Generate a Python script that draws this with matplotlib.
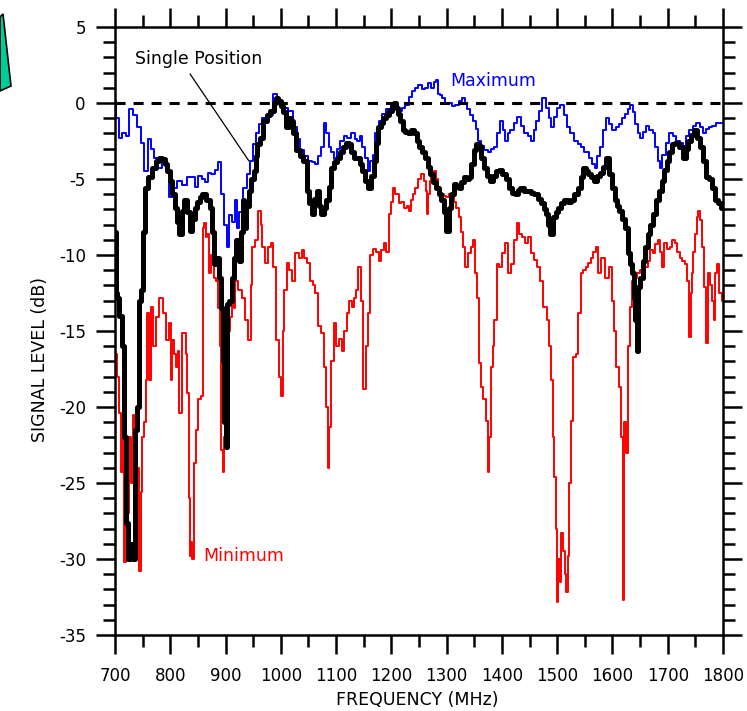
import matplotlib
matplotlib.use('Agg')
from matplotlib import pyplot as plt
from matplotlib.patches import Polygon

plt.rcParams['font.family'] = ['DejaVu Sans']
plt.rcParams['axes.unicode_minus'] = False

# Maximum (blue)
max_freq = [700, 705, 710, 716, 722, 729, 735, 745, 750, 756, 763, 768, 774, 781, 788, 795,
            801, 808, 818, 826, 834, 841, 848, 854, 860, 865, 871, 877, 884, 890, 895, 900,
            904, 910, 915, 919, 922, 928, 935, 941, 947, 953, 958, 962, 971, 980, 990, 996,
            1002, 1010, 1017, 1026, 1032, 1038, 1045, 1053, 1060, 1065, 1070, 1075, 1080, 1084,
            1089, 1094, 1098, 1104, 1111, 1116, 1122, 1131, 1136, 1140, 1145, 1150, 1155, 1159,
            1164, 1168, 1174, 1180, 1187, 1195, 1205, 1210, 1216, 1222, 1228, 1235, 1241, 1246,
            1252, 1258, 1264, 1270, 1275, 1280, 1283, 1286, 1290, 1295, 1300, 1306, 1312, 1319,
            1325, 1331, 1335, 1340, 1345, 1350, 1355, 1360, 1365, 1371, 1377, 1383, 1389, 1394,
            1400, 1404, 1408, 1413, 1418, 1424, 1431, 1437, 1444, 1450, 1455, 1460, 1464, 1470,
            1476, 1482, 1487, 1491, 1497, 1503, 1509, 1515, 1521, 1527, 1534, 1540, 1545, 1553,
            1561, 1566, 1570, 1575, 1579, 1585, 1592, 1597, 1603, 1609, 1615, 1620, 1625, 1630,
            1634, 1639, 1643, 1648, 1652, 1658, 1664, 1670, 1675, 1680, 1685, 1688, 1693, 1700,
            1706, 1712, 1719, 1724, 1730, 1736, 1742, 1748, 1755, 1760, 1766, 1772, 1778, 1784,
            1790, 1800]
max_level = [0.1, -1.0, -2.3, -2.0, -2.2, -0.4, -0.8, -1.6, -2.6, -4.5, -2.4, -3.0, -3.6, -4.3, -3.7, -4.2,
             -6.2, -5.6, -5.1, -5.4, -4.9, -4.9, -5.5, -4.8, -5.0, -5.2, -4.6, -4.7, -4.4, -3.9, -6.0, -8.0,
             -9.5, -7.4, -7.8, -6.4, -8.2, -7.2, -5.6, -4.7, -3.8, -2.7, -2.0, -1.4, -1.0, -0.8, 0.6, 0.2,
             -0.1, -0.3, -0.5, -1.6, -2.4, -3.1, -3.5, -3.8, -3.9, -4.0, -3.5, -2.9, -1.3, -2.0,
             -2.9, -3.2, -3.7, -3.0, -2.5, -2.2, -2.3, -2.0, -2.4, -2.5, -2.2, -2.9, -3.6, -4.5,
             -3.8, -3.4, -2.0, -1.2, -0.7, -0.4, -0.1, -0.3, -0.5, -0.3, -0.1, 0.4, 0.8, 1.0,
             1.2, 0.9, 1.0, 1.3, 1.0, 1.4, 1.5, 0.6, 0.5, 0.3, 0.0, 0.0, -0.2, -0.1,
             0.1, 0.3, 0.0, -0.4, -0.8, -1.2, -1.7, -2.5, -2.8, -3.1, -3.2, -3.0, -2.9, -2.0,
             -1.2, -1.8, -2.5, -2.0, -1.8, -1.3, -0.9, -1.5, -2.0, -2.2, -2.5, -1.8, -1.2, -0.5,
             0.3, -0.3, -1.0, -1.6, -0.9, -0.3, -0.1, -0.8, -1.6, -2.0, -2.5, -2.7, -2.9, -3.2,
             -3.6, -4.0, -4.3, -3.5, -2.9, -1.8, -1.0, -1.4, -1.8, -1.6, -1.4, -1.0, -0.7, -0.4,
             -0.1, -0.6, -1.4, -2.0, -2.3, -1.9, -1.5, -1.8, -2.0, -2.9, -3.8, -4.3, -3.4, -2.6,
             -2.0, -2.2, -2.5, -2.6, -2.8, -2.2, -1.8, -1.5, -1.3, -1.6, -2.0, -1.7, -1.6, -1.5,
             -1.3, -1.3]

# Single position (black)
single_freq = [700, 702, 706, 710, 714, 718, 722, 726, 730, 734, 738, 742, 746, 749, 752, 756,
               763, 772, 778, 783, 788, 792, 797, 801, 806, 810, 814, 818, 823, 828, 833, 837,
               842, 847, 851, 855, 861, 868, 874, 878, 881, 886, 890, 893, 896, 899, 901, 904,
               910, 914, 917, 922, 926, 930, 932, 935, 940, 944, 949, 953, 956, 959, 966, 971,
               978, 984, 990, 993, 997, 1002, 1007, 1013, 1017, 1020, 1025, 1031, 1038, 1044,
               1049, 1054, 1058, 1063, 1067, 1071, 1076, 1080, 1085, 1089, 1094, 1099, 1103,
               1110, 1116, 1120, 1125, 1130, 1134, 1140, 1145, 1150, 1156, 1161, 1166, 1170,
               1174, 1178, 1183, 1187, 1192, 1198, 1203, 1207, 1211, 1214, 1218, 1223, 1228,
               1232, 1238, 1243, 1248, 1252, 1258, 1264, 1268, 1273, 1278, 1283, 1288, 1292,
               1297, 1301, 1306, 1310, 1315, 1320, 1324, 1329, 1333, 1338, 1342, 1347, 1351,
               1356, 1360, 1365, 1371, 1376, 1380, 1386, 1391, 1397, 1404, 1410, 1416, 1421,
               1426, 1431, 1436, 1443, 1449, 1455, 1462, 1467, 1473, 1478, 1482, 1486, 1489,
               1495, 1499, 1503, 1510, 1516, 1522, 1527, 1534, 1540, 1545, 1549, 1554, 1558,
               1564, 1570, 1575, 1579, 1585, 1592, 1597, 1602, 1606, 1610, 1615, 1620, 1625,
               1630, 1634, 1637, 1640, 1643, 1645, 1648, 1652, 1657, 1662, 1666, 1670, 1675,
               1682, 1687, 1691, 1696, 1700, 1706, 1711, 1717, 1724, 1730, 1735, 1739, 1745,
               1751, 1756, 1760, 1766, 1773, 1778, 1782, 1788, 1793, 1800]
single_level = [-8.5, -12.5, -12.8, -14.0, -16.0, -22.0, -27.6, -30.0, -29.0, -30.0, -21.5, -20.0, -13.0, -12.3, -8.5, -5.6,
                -4.9, -4.3, -3.8, -3.6, -3.7, -4.0, -4.5, -5.1, -6.0, -6.9, -7.8, -8.6, -7.1, -6.4, -7.2, -8.4,
                -7.6, -6.9, -6.5, -6.2, -6.0, -6.4, -6.9, -8.5, -10.6, -10.2, -11.5, -13.5, -17.0, -21.0, -22.6, -13.2,
                -13.0, -11.5, -10.2, -9.0, -10.4, -8.5, -6.4, -8.2, -6.8, -5.8, -5.0, -4.5, -3.5, -2.7, -2.3, -1.2,
                -0.8, -0.5, 0.0, 0.3, 0.1, -0.2, -0.6, -1.6, -1.0, -1.2, -2.0, -3.1, -3.5, -3.8,
                -5.8, -6.6, -7.3, -6.3, -5.8, -6.8, -7.3, -6.9, -6.4, -5.5, -4.3, -3.9, -3.6,
                -3.2, -2.9, -2.6, -2.7, -3.2, -3.6, -3.6, -4.0, -4.5, -5.1, -5.6, -4.8, -3.8,
                -2.6, -1.6, -1.3, -1.0, -0.8, -0.5, -0.2, 0.0, -0.3, -0.7, -1.2, -1.8, -1.9,
                -2.0, -1.8, -2.0, -2.5, -2.9, -3.2, -3.6, -4.2, -4.7, -5.2, -5.6, -6.0, -6.4,
                -7.2, -8.4, -6.9, -6.0, -5.3, -5.5, -5.6, -5.2, -4.9, -5.0, -4.9, -4.0, -3.1,
                -2.7, -2.8, -3.6, -4.3, -4.8, -5.1, -4.8, -4.5, -4.4, -4.7, -5.0, -5.6, -5.9,
                -6.0, -5.7, -5.6, -5.8, -5.8, -5.9, -6.0, -6.3, -6.6, -7.0, -7.3, -8.0, -8.6,
                -7.5, -7.2, -6.9, -6.6, -6.4, -6.5, -6.4, -6.0, -5.6, -4.9, -4.3, -4.5, -4.7,
                -4.9, -5.1, -4.8, -4.6, -4.2, -3.6, -4.7, -5.6, -6.4, -6.8, -7.1, -7.6, -8.2,
                -9.9, -10.6, -11.2, -12.8, -14.3, -16.3, -12.1, -11.5, -10.4, -9.5, -8.6, -8.0, -7.3,
                -6.4, -5.8, -5.1, -4.4, -3.8, -3.2, -2.7, -2.6, -2.9, -3.6, -3.0, -2.5, -2.1,
                -1.8, -2.3, -2.9, -3.8, -4.9, -5.0, -5.6, -6.4, -6.6, -6.9]

# Minimum (red)
min_freq = [700, 701, 703, 706, 710, 713, 716, 718, 720, 724, 728, 731, 735, 739, 742, 745,
            748, 751, 754, 757, 760, 763, 767, 772, 778, 782, 785, 790, 796, 800, 803, 805,
            809, 812, 815, 818, 823, 827, 830, 832, 834, 836, 838, 841, 845, 848, 853, 857,
            860, 863, 866, 868, 872, 875, 877, 881, 884, 888, 891, 893, 896, 899, 902, 906,
            910, 913, 916, 920, 926, 932, 938, 944, 947, 950, 957, 962, 965, 968, 975, 980,
            984, 989, 995, 998, 1002, 1005, 1008, 1013, 1018, 1022, 1029, 1035, 1040, 1045,
            1049, 1056, 1060, 1065, 1071, 1076, 1080, 1083, 1086, 1089, 1093, 1098, 1103,
            1108, 1112, 1117, 1122, 1126, 1130, 1134, 1138, 1143, 1147, 1151, 1156, 1159,
            1165, 1170, 1175, 1179, 1184, 1188, 1193, 1197, 1201, 1204, 1210, 1216, 1220,
            1225, 1230, 1234, 1238, 1241, 1246, 1251, 1256, 1261, 1264, 1266, 1268, 1270,
            1275, 1279, 1283, 1286, 1292, 1297, 1301, 1306, 1310, 1315, 1319, 1324, 1328,
            1331, 1337, 1342, 1346, 1350, 1353, 1357, 1360, 1364, 1368, 1373, 1376, 1379,
            1382, 1385, 1388, 1393, 1397, 1402, 1409, 1413, 1420, 1425, 1429, 1434, 1440,
            1445, 1450, 1456, 1461, 1465, 1472, 1478, 1484, 1488, 1491, 1493, 1496, 1498,
            1500, 1503, 1506, 1509, 1512, 1515, 1518, 1520, 1523, 1527, 1532, 1536, 1541,
            1545, 1550, 1554, 1559, 1563, 1568, 1572, 1577, 1583, 1590, 1596, 1601, 1605,
            1608, 1614, 1617, 1620, 1623, 1626, 1630, 1634, 1638, 1642, 1646, 1652, 1657,
            1662, 1666, 1670, 1675, 1680, 1684, 1688, 1691, 1697, 1702, 1706, 1711, 1715,
            1720, 1724, 1729, 1733, 1737, 1740, 1743, 1745, 1748, 1751, 1754, 1757, 1760,
            1764, 1768, 1771, 1775, 1778, 1782, 1784, 1788, 1791, 1796, 1800]
min_level = [-14.0, -17.5, -16.5, -18.0, -20.4, -24.3, -22.0, -30.2, -25.0, -27.0, -22.0, -25.0, -20.5, -22.5, -24.0, -30.8,
             -25.6, -22.0, -21.0, -18.2, -13.8, -18.2, -13.4, -16.0, -14.1, -12.8, -12.8, -13.8, -15.6, -14.5, -18.2, -15.6,
             -16.5, -17.4, -16.3, -20.4, -15.1, -15.1, -16.5, -19.1, -26.0, -29.8, -28.9, -30.0, -23.7, -21.5, -19.5, -19.3,
             -8.2, -7.9, -8.8, -8.6, -11.2, -10.0, -10.5, -11.5, -11.7, -13.5, -16.0, -22.8, -24.3, -22.0, -17.0, -15.0,
             -14.1, -12.0, -13.5, -11.7, -12.3, -12.8, -14.3, -15.6, -12.0, -9.5, -9.0, -7.1, -8.0, -9.5, -10.5, -9.5,
             -9.2, -10.8, -15.6, -18.0, -19.3, -15.0, -12.3, -10.5, -11.0, -11.7, -9.9, -10.2, -9.7, -10.2,
             -10.5, -11.7, -12.0, -12.5, -14.7, -15.1, -17.4, -20.0, -24.0, -21.3, -17.0, -14.5, -16.0,
             -15.5, -16.3, -15.0, -13.8, -13.0, -13.4, -12.8, -12.3, -10.8, -13.0, -18.8, -16.0, -13.8,
             -10.0, -9.6, -9.8, -10.4, -9.7, -9.2, -9.8, -7.3, -6.5, -5.6, -6.0, -6.6, -6.5,
             -6.9, -6.8, -7.1, -6.4, -6.0, -5.6, -5.0, -4.7, -5.1, -5.8, -7.3, -6.0, -5.1,
             -4.8, -4.5, -5.0, -5.8, -6.0, -6.1, -6.2, -6.0, -6.0, -6.5, -6.9, -7.5, -8.5,
             -9.5, -10.8, -9.9, -9.5, -9.0, -11.2, -12.8, -17.1, -18.7, -19.5, -20.9, -24.3, -22.0,
             -17.4, -16.0, -14.3, -10.6, -10.8, -9.9, -9.2, -11.2, -10.6, -9.0, -7.9, -8.6, -8.8,
             -9.2, -8.8, -9.9, -10.3, -10.8, -11.7, -13.4, -14.3, -16.0, -18.2, -22.0, -24.6, -28.0,
             -32.8, -30.0, -31.5, -28.3, -29.5, -31.0, -32.2, -29.8, -25.0, -20.9, -16.7, -16.5, -13.8,
             -11.2, -11.0, -10.8, -10.5, -10.2, -9.8, -9.5, -11.2, -10.2, -11.5, -10.8, -13.0, -15.0,
             -17.4, -18.7, -22.0, -32.7, -21.0, -23.0, -16.0, -13.4, -11.7, -11.5, -11.2, -11.0, -11.2,
             -10.8, -10.4, -9.7, -9.9, -9.3, -9.0, -9.8, -10.8, -9.2, -9.6, -9.5, -9.0, -9.2,
             -9.8, -10.2, -10.4, -10.6, -11.7, -15.4, -12.5, -11.2, -9.8, -8.6, -7.5, -7.1, -7.7,
             -9.5, -12.1, -15.8, -11.2, -12.0, -13.0, -14.3, -11.2, -10.6, -12.5, -13.0]

x_ticks = [700, 800, 900, 1000, 1100, 1200, 1300, 1400, 1500, 1600, 1700, 1800]
y_ticks = [5, 0, -5, -10, -15, -20, -25, -30, -35]

W, H = 747, 711
fig = plt.figure(figsize=(W / 100, H / 100), dpi=100)
ax = fig.add_axes([115 / W, 1 - 635 / H, 608 / W, 608 / H])

# stepped traces, like the analyser output
ax.plot(min_freq, min_level, color='#ff0000', lw=1.4, drawstyle='steps-mid')
ax.plot(max_freq, max_level, color='#0000ff', lw=1.4, drawstyle='steps-mid')
ax.axhline(0, color='black', lw=2.2, linestyle=(0, (3.3, 2.6)))
ax.plot(single_freq, single_level, color='black', lw=3.6, drawstyle='steps-mid')

ax.set_xlim(700, 1800)
ax.set_ylim(-35, 5)
ax.set_xticks(x_ticks)
ax.set_xticks(range(750, 1800, 100), minor=True)
ax.set_yticks(y_ticks)
ax.set_yticks(range(-34, 5, 1), minor=True)
ax.set_xticklabels([str(t) for t in x_ticks])
ax.set_yticklabels([str(t) for t in y_ticks])
ax.tick_params(which='both', direction='out', top=True, right=True, width=1.8, labelsize=12)
ax.tick_params(which='major', length=14)
ax.tick_params(which='minor', length=8.5)
ax.tick_params(axis='x', pad=9)
ax.tick_params(axis='y', pad=7)
for s in ax.spines.values():
    s.set_linewidth(1.8)

ax.text(736, 2.9, 'Single Position', fontsize=12.5, va='center', ha='left')
ax.plot([836, 942], [1.9, -3.8], color='black', lw=0.9)
ax.text(1306, 1.45, 'Maximum', fontsize=12.5, color='#0000ff', va='center', ha='left')
ax.text(859, -29.8, 'Minimum', fontsize=12.5, color='#ff0000', va='center', ha='left')

fig.text(40 / W, 1 - 360 / H, 'SIGNAL LEVEL (dB)', rotation=90, ha='center', va='center', fontsize=12.5)
fig.text(417 / W, 1 - 700 / H, 'FREQUENCY (MHz)', ha='center', va='center', fontsize=12.5)

pts = [(0, 17), (3, 14), (11, 86), (0, 91)]
shape = Polygon([(x / W, 1 - y / H) for x, y in pts], closed=True, transform=fig.transFigure,
                facecolor='#00cc99', edgecolor='black', lw=1.2)
fig.patches.append(shape)

fig.savefig('out.png', dpi=100)
